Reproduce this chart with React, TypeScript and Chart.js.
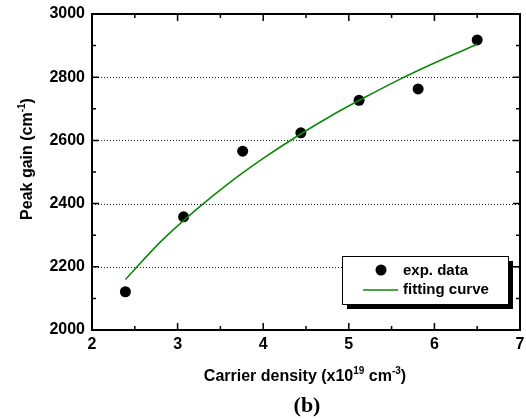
import React, { useEffect, useRef } from "react";
import { Chart, registerables } from "chart.js";

Chart.register(...registerables);

// Measured peak gain vs. carrier density
const densities = [2.39, 3.07, 3.76, 4.44, 5.12, 5.81, 6.5];
const peakGain = [2121, 2358, 2566, 2624, 2727, 2763, 2918];

// Fitted curve, sampled along the density range
const fitDensity = [2.39, 2.8, 3.2, 3.6, 4.0, 4.4, 4.8, 5.2, 5.6, 6.0, 6.5];
const fitGain = [2160, 2279, 2377, 2465, 2543, 2614, 2679, 2738, 2794, 2845, 2904];

// Axis ranges and ticks
const xMin = 2;
const xMax = 7;
const xStep = 1;
const yMin = 2000;
const yMax = 3000;
const yStep = 200;
const gridValues = [2200, 2400, 2600, 2800];

const legendLabels = ["exp. data", "fitting curve"];

const SANS = "'Liberation Sans', Arial, Helvetica, sans-serif";
const SERIF = "'Liberation Serif', 'Times New Roman', serif";
const GREEN = "#0b880b";

type Piece = { text: string; sup?: boolean };

function drawRich(
  ctx: CanvasRenderingContext2D,
  pieces: Piece[],
  cx: number,
  baseline: number,
  size: number,
  supSize: number
) {
  const widths = pieces.map((p) => {
    ctx.font = `bold ${p.sup ? supSize : size}px ${SANS}`;
    return ctx.measureText(p.text).width;
  });
  const total = widths.reduce((a, b) => a + b, 0);
  let x = cx - total / 2;
  ctx.textAlign = "left";
  ctx.textBaseline = "alphabetic";
  pieces.forEach((p, i) => {
    ctx.font = `bold ${p.sup ? supSize : size}px ${SANS}`;
    ctx.fillText(p.text, x, p.sup ? baseline - size * 0.42 : baseline);
    x += widths[i];
  });
}

// keep the plot frame exactly where the layout padding puts it
function fixScaleSize(scale: any, size: { width?: number; height?: number }) {
  if (size.width !== undefined) scale.width = size.width;
  if (size.height !== undefined) scale.height = size.height;
  scale.paddingTop = 0;
  scale.paddingBottom = 0;
  scale.paddingLeft = 0;
  scale.paddingRight = 0;
}

const framePlugin = {
  id: "frame",
  beforeDatasetsDraw(chart: any) {
    const { ctx, chartArea, scales } = chart;
    const y = scales.y;
    ctx.save();
    ctx.strokeStyle = "#222";
    ctx.lineWidth = 1;
    ctx.setLineDash([1, 2]);
    gridValues.forEach((v) => {
      const py = Math.round(y.getPixelForValue(v)) + 0.5;
      ctx.beginPath();
      ctx.moveTo(chartArea.left, py);
      ctx.lineTo(chartArea.right, py);
      ctx.stroke();
    });
    ctx.restore();
  },
  afterDatasetsDraw(chart: any) {
    const { ctx, chartArea, scales } = chart;
    const { left, right, top, bottom } = chartArea;
    const xs = scales.x;
    const ys = scales.y;
    ctx.save();
    ctx.strokeStyle = "#000";
    ctx.setLineDash([]);
    ctx.lineWidth = 1.5;
    // inward ticks on all four sides
    for (let v = xMin; v <= xMax + 1e-9; v += xStep / 2) {
      const major = Math.abs(v - Math.round(v)) < 1e-6;
      const len = major ? 7 : 4;
      const px = xs.getPixelForValue(v);
      ctx.beginPath();
      ctx.moveTo(px, bottom);
      ctx.lineTo(px, bottom - len);
      ctx.moveTo(px, top);
      ctx.lineTo(px, top + len);
      ctx.stroke();
    }
    for (let v = yMin; v <= yMax + 1e-9; v += yStep / 2) {
      const major = Math.abs((v - yMin) % yStep) < 1e-6;
      const len = major ? 7 : 4;
      const py = ys.getPixelForValue(v);
      ctx.beginPath();
      ctx.moveTo(left, py);
      ctx.lineTo(left + len, py);
      ctx.moveTo(right, py);
      ctx.lineTo(right - len, py);
      ctx.stroke();
    }
    ctx.lineWidth = 2;
    ctx.strokeRect(left, top, right - left, bottom - top);

    // legend with drop shadow
    const bx = 342;
    const by = 256;
    const bw = 166;
    const bh = 48;
    ctx.fillStyle = "#000";
    ctx.fillRect(bx + 5, by + 5, bw, bh);
    ctx.fillStyle = "#fff";
    ctx.fillRect(bx, by, bw, bh);
    ctx.lineWidth = 1;
    ctx.strokeStyle = "#000";
    ctx.strokeRect(bx + 0.5, by + 0.5, bw, bh);

    ctx.fillStyle = "#000";
    ctx.beginPath();
    ctx.arc(381, 270, 5.5, 0, Math.PI * 2);
    ctx.fill();
    ctx.strokeStyle = GREEN;
    ctx.lineWidth = 1.5;
    ctx.beginPath();
    ctx.moveTo(363, 290);
    ctx.lineTo(398, 290);
    ctx.stroke();

    ctx.fillStyle = "#000";
    ctx.font = `bold 15px ${SANS}`;
    ctx.textAlign = "left";
    ctx.textBaseline = "alphabetic";
    ctx.fillText(legendLabels[0], 403, 275);
    ctx.fillText(legendLabels[1], 403, 294);

    // axis titles
    drawRich(
      ctx,
      [
        { text: "Carrier density (x10" },
        { text: "19", sup: true },
        { text: " cm" },
        { text: "-3", sup: true },
        { text: ")" },
      ],
      305,
      381,
      16,
      10
    );

    ctx.save();
    ctx.translate(32, 159);
    ctx.rotate(-Math.PI / 2);
    drawRich(
      ctx,
      [{ text: "Peak gain (cm" }, { text: "-1", sup: true }, { text: ")" }],
      0,
      0,
      16,
      10
    );
    ctx.restore();

    ctx.font = `bold 22px ${SERIF}`;
    ctx.textAlign = "center";
    ctx.fillText("(b)", 307, 412);
    ctx.restore();
  },
};

export default function App() {
  const canvasRef = useRef<HTMLCanvasElement | null>(null);

  useEffect(() => {
    document.body.style.margin = "0";
    const canvas = canvasRef.current;
    if (!canvas) return;
    const chart = new Chart(canvas, {
      type: "scatter",
      data: {
        datasets: [
          {
            type: "line",
            label: legendLabels[1],
            data: fitDensity.map((x, i) => ({ x, y: fitGain[i] })),
            borderColor: GREEN,
            borderWidth: 1.6,
            pointRadius: 0,
            fill: false,
            cubicInterpolationMode: "monotone",
          },
          {
            type: "scatter",
            label: legendLabels[0],
            data: densities.map((x, i) => ({ x, y: peakGain[i] })),
            backgroundColor: "#000",
            borderColor: "#000",
            pointRadius: 5.5,
            borderWidth: 0,
          },
        ],
      } as any,
      options: {
        responsive: false,
        animation: false,
        devicePixelRatio: 1,
        layout: { padding: { top: 14, right: 6, left: 0, bottom: 0 } },
        plugins: {
          legend: { display: false },
          tooltip: { enabled: false },
        },
        scales: {
          x: {
            type: "linear",
            min: xMin,
            max: xMax,
            grid: { display: false, drawTicks: false },
            border: { display: false },
            ticks: {
              stepSize: xStep,
              autoSkip: false,
              padding: 5,
              color: "#000",
              font: { family: SANS, size: 16, weight: "bold" },
              callback: (v: number) => String(v),
            },
            afterFit(scale: any) {
              fixScaleSize(scale, { height: 89 });
            },
          },
          y: {
            type: "linear",
            min: yMin,
            max: yMax,
            grid: { display: false, drawTicks: false },
            border: { display: false },
            ticks: {
              stepSize: yStep,
              autoSkip: false,
              padding: 7,
              color: "#000",
              font: { family: SANS, size: 16, weight: "bold" },
              callback: (v: number) => String(v),
            },
            afterFit(scale: any) {
              fixScaleSize(scale, { width: 92 });
            },
          },
        },
      } as any,
      plugins: [framePlugin],
    });
    return () => chart.destroy();
  }, []);

  return (
    <div style={{ width: 526, height: 419 }}>
      <canvas ref={canvasRef} width={526} height={419} />
    </div>
  );
}
